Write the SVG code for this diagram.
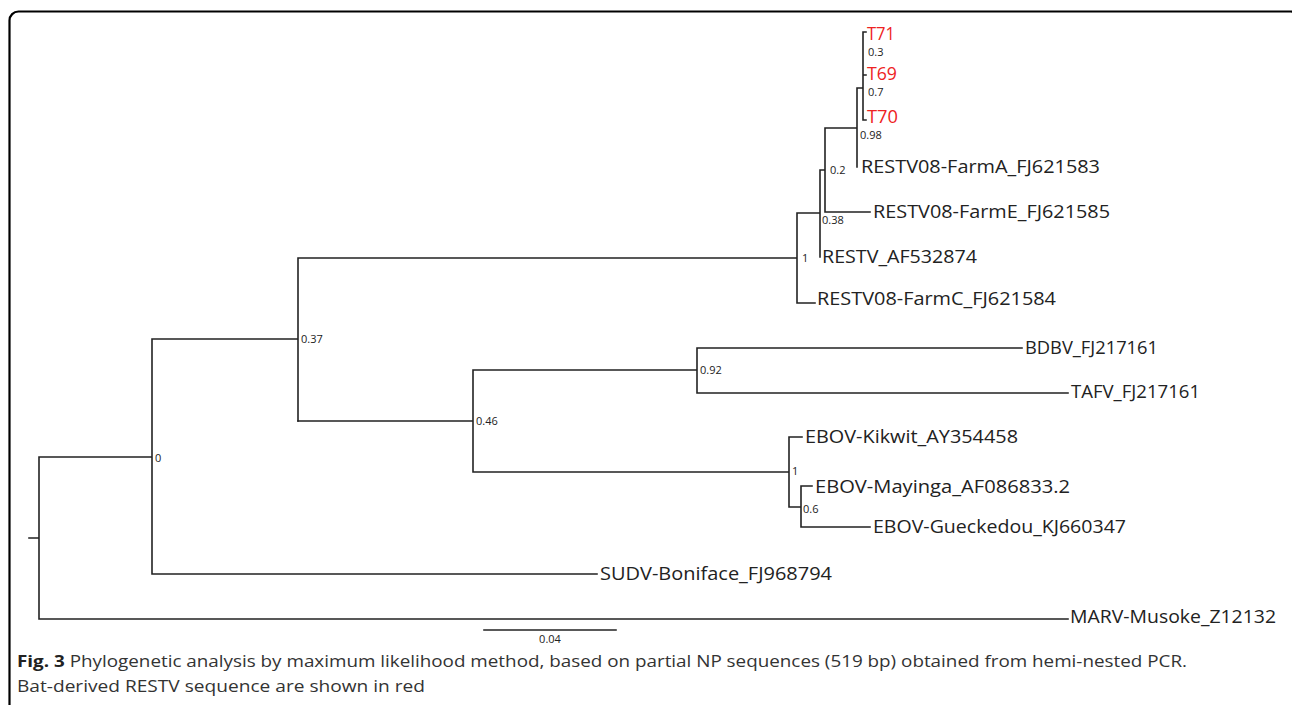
<svg xmlns="http://www.w3.org/2000/svg" width="1292" height="705" viewBox="0 0 1292 705">
<style>
.br{fill:none;stroke:#222;stroke-width:1.6;stroke-linecap:square}
.lab{font-family:"Open Sans","Noto Sans",sans-serif;font-size:18px;fill:#222}
.red{fill:#ee2222}
.bs{font-family:"Open Sans","Noto Sans",sans-serif;font-size:11px;fill:#222}
.cap{font-family:"Open Sans","Noto Sans",sans-serif;font-size:16px;fill:#333}
</style>
<rect x="9.5" y="11.5" width="1290" height="720" rx="9" fill="#fff" stroke="#000" stroke-width="2.2"/>
<g id="connectors">
<path class="br" d="M29 538H39M39 457V619M39 619H1068M39 457H152M152 339V574M152 574H597M152 339H298M298 258V421M298 258H797M797 213V303M797 303H815M797 213H820M820 170V257M820 170H825M825 128V212M825 212H870M825 128H857M857 88V167M857 88H863M863 32V120M863 32H866M863 75H866M863 120H866"/>
<path class="br" d="M298 421H473M473 370V472M473 370H697M697 348V393M697 348H1022M697 393H1068M473 472H789M789 437V507M789 437H802M789 507H801M801 486V527M801 486H812M801 527H870"/>
<path class="br" d="M484 630H616" stroke-width="2"/>
</g>
<g id="n-T71"><text class="lab red" x="867" y="40" textLength="28" lengthAdjust="spacingAndGlyphs">T71</text></g>
<g id="n-T69"><text class="lab red" x="867" y="80" textLength="30" lengthAdjust="spacingAndGlyphs">T69</text></g>
<g id="n-T70"><text class="lab red" x="867" y="123" textLength="31" lengthAdjust="spacingAndGlyphs">T70</text></g>
<g id="n-FarmA"><text class="lab" x="861" y="173" textLength="239" lengthAdjust="spacingAndGlyphs">RESTV08-FarmA_FJ621583</text></g>
<g id="n-FarmE"><text class="lab" x="873" y="218" textLength="237" lengthAdjust="spacingAndGlyphs">RESTV08-FarmE_FJ621585</text></g>
<g id="n-AF532874"><text class="lab" x="822" y="263" textLength="155" lengthAdjust="spacingAndGlyphs">RESTV_AF532874</text></g>
<g id="n-FarmC"><text class="lab" x="817" y="305" textLength="239" lengthAdjust="spacingAndGlyphs">RESTV08-FarmC_FJ621584</text></g>
<g id="n-BDBV"><text class="lab" x="1025" y="354" textLength="133" lengthAdjust="spacingAndGlyphs">BDBV_FJ217161</text></g>
<g id="n-TAFV"><text class="lab" x="1071" y="398" textLength="129" lengthAdjust="spacingAndGlyphs">TAFV_FJ217161</text></g>
<g id="n-Kikwit"><text class="lab" x="805" y="443" textLength="213" lengthAdjust="spacingAndGlyphs">EBOV-Kikwit_AY354458</text></g>
<g id="n-Mayinga"><text class="lab" x="815" y="493" textLength="255" lengthAdjust="spacingAndGlyphs">EBOV-Mayinga_AF086833.2</text></g>
<g id="n-Gueckedou"><text class="lab" x="873" y="533" textLength="253" lengthAdjust="spacingAndGlyphs">EBOV-Gueckedou_KJ660347</text></g>
<g id="n-SUDV"><text class="lab" x="600" y="580" textLength="232" lengthAdjust="spacingAndGlyphs">SUDV-Boniface_FJ968794</text></g>
<g id="n-MARV"><text class="lab" x="1070" y="623" textLength="206" lengthAdjust="spacingAndGlyphs">MARV-Musoke_Z12132</text></g>
<g id="bootstrap">
<text class="bs" x="868" y="56">0.3</text>
<text class="bs" x="868" y="96">0.7</text>
<text class="bs" x="860" y="139">0.98</text>
<text class="bs" x="830" y="174">0.2</text>
<text class="bs" x="822" y="224">0.38</text>
<text class="bs" x="802" y="262">1</text>
<text class="bs" x="301" y="343">0.37</text>
<text class="bs" x="476" y="425">0.46</text>
<text class="bs" x="700" y="374">0.92</text>
<text class="bs" x="792" y="475">1</text>
<text class="bs" x="803" y="513">0.6</text>
<text class="bs" x="155" y="462">0</text>
</g>
<g id="scale"><text class="bs" x="550" y="643" text-anchor="middle" font-size="12">0.04</text></g>
<g id="caption">
<text class="cap" x="17" y="667" textLength="1170" lengthAdjust="spacingAndGlyphs"><tspan font-weight="bold" fill="#222">Fig. 3</tspan> Phylogenetic analysis by maximum likelihood method, based on partial NP sequences (519 bp) obtained from hemi-nested PCR.</text>
<text class="cap" x="17" y="692" textLength="408" lengthAdjust="spacingAndGlyphs">Bat-derived RESTV sequence are shown in red</text>
</g>
</svg>
